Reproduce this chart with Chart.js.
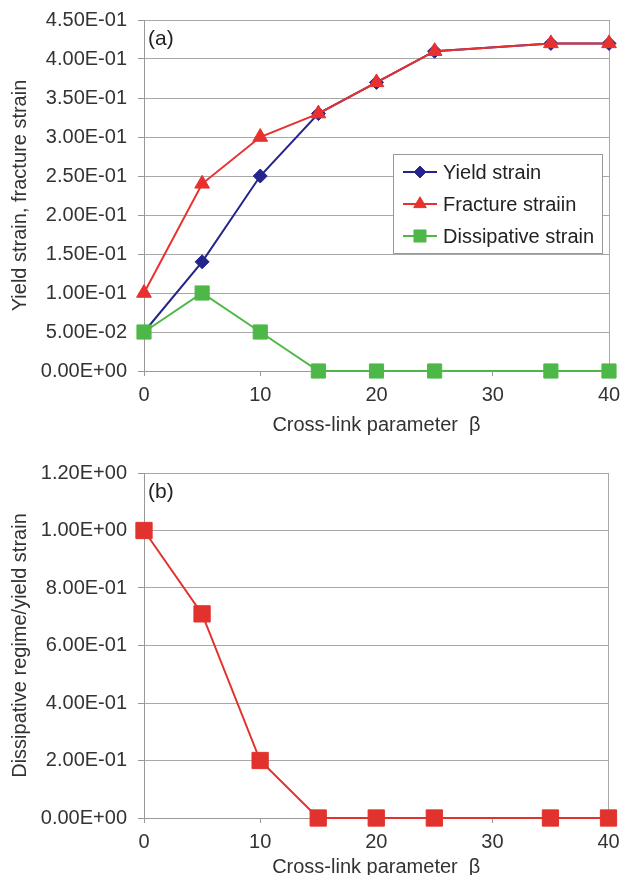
<!DOCTYPE html>
<html>
<head>
<meta charset="utf-8">
<script src="https://cdn.jsdelivr.net/npm/chart.js@4.4.0/dist/chart.umd.min.js"></script>
<style>
    html, body { margin: 0; padding: 0; background: #fff; overflow: hidden; }
    canvas { position: absolute; left: 0; }
    #chartA { top: 0; }
    #chartB { top: 440px; }
</style>
</head>
<body>
<canvas id="chartA" width="621" height="440"></canvas>
<canvas id="chartB" width="621" height="445"></canvas>
<script>
const beta = [0, 5, 10, 15, 20, 25, 35, 40];
const yieldStrain = [0.05, 0.14, 0.25, 0.33, 0.37, 0.41, 0.42, 0.42];
const fractureStrain = [0.10, 0.24, 0.30, 0.33, 0.37, 0.41, 0.42, 0.42];
const dissipativeStrain = [0.05, 0.10, 0.05, 0, 0, 0, 0, 0];
const dissipativeRatio = [1.0, 0.71, 0.20, 0, 0, 0, 0, 0];

const xTicks = [0, 10, 20, 30, 40];
const yTicksA = [0, 0.05, 0.10, 0.15, 0.20, 0.25, 0.30, 0.35, 0.40, 0.45];
const yTicksB = [0, 0.2, 0.4, 0.6, 0.8, 1.0, 1.2];

const FONT = "'Liberation Sans', Arial, sans-serif";
const TEXT = '#333';
const GRID = '#a8a8a8';

function sci(v) {
    const [m, e] = v.toExponential(2).split('e');
    const n = parseInt(e, 10);
    return m + 'E' + (n < 0 ? '-' : '+') + String(Math.abs(n)).padStart(2, '0');
}

function points(ys) {
    return beta.map((b, i) => ({ x: b, y: ys[i] }));
}

function series(label, ys, color, style, radius, order) {
    return {
        label: label,
        data: points(ys),
        borderColor: color,
        backgroundColor: color,
        pointBackgroundColor: color,
        pointBorderColor: color,
        pointBorderWidth: 1,
        pointStyle: style,
        pointRadius: radius,
        pointHoverRadius: radius,
        borderWidth: 2,
        tension: 0,
        clip: false,
        order: order
    };
}

// "(a)" / "(b)" in the top left corner of the plot
function panelLabel(text) {
    return {
        id: 'panelLabel',
        afterDraw(chart) {
            const { ctx, chartArea } = chart;
            ctx.save();
            ctx.font = '21px ' + FONT;
            ctx.fillStyle = '#222';
            ctx.textBaseline = 'middle';
            ctx.fillText(text, chartArea.left + 4, chartArea.top + 19);
            ctx.restore();
        }
    };
}

// legend box drawn inside the plot area, like the Excel one
const insideLegend = {
    id: 'insideLegend',
    afterDatasetsDraw(chart) {
        const { ctx, chartArea } = chart;
        const w = 209, h = 99;
        const left = chartArea.right - 216;
        const top = chartArea.top + 134;
        ctx.save();
        ctx.fillStyle = '#fff';
        ctx.fillRect(left, top, w, h);
        ctx.strokeStyle = '#999';
        ctx.lineWidth = 1;
        ctx.strokeRect(left + 0.5, top + 0.5, w, h);
        chart.data.datasets.forEach((ds, i) => {
            const y = top + 18 + i * 32;
            ctx.strokeStyle = ds.borderColor;
            ctx.lineWidth = 2;
            ctx.beginPath();
            ctx.moveTo(left + 10, y);
            ctx.lineTo(left + 44, y);
            ctx.stroke();
            ctx.fillStyle = ds.backgroundColor;
            ctx.lineWidth = 1;
            Chart.helpers.drawPoint(ctx, {
                pointStyle: ds.pointStyle,
                radius: ds.pointRadius * 0.85,
                borderWidth: 1,
                rotation: 0
            }, left + 27, y);
            ctx.fillStyle = '#222';
            ctx.font = '20px ' + FONT;
            ctx.textBaseline = 'middle';
            ctx.fillText(ds.label, left + 50, y + 1);
        });
        ctx.restore();
    }
};

function scales(yTicks, yTitle, xHeight, titlePadBottom) {
    return {
        x: {
            type: 'linear',
            min: 0,
            max: 40,
            afterBuildTicks: (s) => { s.ticks = xTicks.map(v => ({ value: v })); },
            afterFit: (s) => {
                s.height = xHeight;
                s.paddingLeft = 0;
                s.paddingRight = 0;
            },
            ticks: { color: TEXT, font: { family: FONT, size: 20 }, padding: 7, maxRotation: 0 },
            grid: {
                color: (c) => (c.tick && c.tick.value === 40 ? GRID : 'rgba(0,0,0,0)'),
                tickColor: '#999',
                tickLength: 5,
                lineWidth: 1
            },
            border: { color: '#999' },
            title: {
                display: true,
                text: 'Cross-link parameter  β',
                color: TEXT,
                font: { family: FONT, size: 20 },
                padding: { top: 0, bottom: titlePadBottom }
            }
        },
        y: {
            min: yTicks[0],
            max: yTicks[yTicks.length - 1],
            afterBuildTicks: (s) => { s.ticks = yTicks.map(v => ({ value: v })); },
            afterFit: (s) => {
                s.width = 144;
                s.paddingTop = 0;
                s.paddingBottom = 0;
            },
            ticks: { color: TEXT, font: { family: FONT, size: 20 }, padding: 11, callback: (v) => sci(v) },
            grid: { color: GRID, tickColor: '#999', tickLength: 6, lineWidth: 1 },
            border: { color: '#999' },
            title: {
                display: true,
                text: yTitle,
                color: TEXT,
                font: { family: FONT, size: 20 },
                padding: { top: 8, bottom: 0 }
            }
        }
    };
}

const common = {
    responsive: false,
    animation: false,
    events: [],
    plugins: { legend: { display: false }, tooltip: { enabled: false } }
};

new Chart(document.getElementById('chartA').getContext('2d'), {
    type: 'line',
    data: {
        datasets: [
            series('Yield strain', yieldStrain, '#24248c', 'rectRot', 7, 2),
            series('Fracture straiin', fractureStrain, '#e8312f', 'triangle', 8.5, 1),
            series('Dissipative strain', dissipativeStrain, '#4db848', 'rect', 10, 0)
        ]
    },
    options: Object.assign({}, common, {
        layout: { padding: { left: 0, top: 20, right: 12, bottom: 0 } },
        scales: scales(yTicksA, 'Yield strain, fracture strain', 69, 3)
    }),
    plugins: [panelLabel('(a)'), insideLegend]
});

new Chart(document.getElementById('chartB').getContext('2d'), {
    type: 'line',
    data: {
        datasets: [
            series('Dissipative regime/yield strain', dissipativeRatio, '#e2322d', 'rect', 11.5, 0)
        ]
    },
    options: Object.assign({}, common, {
        layout: { padding: { left: 0, top: 33, right: 12, bottom: 0 } },
        scales: scales(yTicksB, 'Dissipative regime/yield strain', 67, 6)
    }),
    plugins: [panelLabel('(b)')]
});
</script>
</body>
</html>
